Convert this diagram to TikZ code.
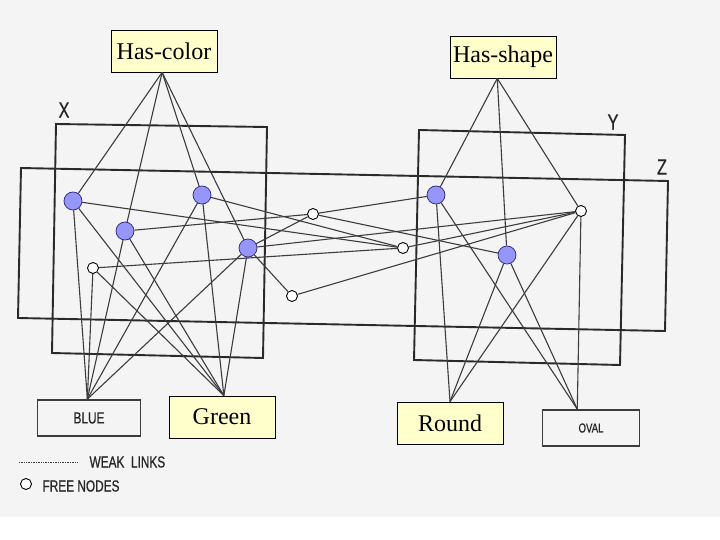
\documentclass[tikz,border=0pt]{standalone}
\usepackage{fontspec}
\setmainfont{Liberation Serif}
\newfontfamily\scanfont[FakeStretch=0.74, FakeBold=0.6]{Liberation Sans}
\usetikzlibrary{positioning}

\definecolor{boxyellow}{RGB}{255,255,204}
\definecolor{nodeblue}{RGB}{150,150,250}
\definecolor{nodeedge}{RGB}{40,40,120}
\definecolor{scangray}{RGB}{244,244,244}
\definecolor{inkgray}{RGB}{60,60,60}

\tikzset{
  featbox/.style={draw=black, fill=boxyellow, line width=0.8pt, minimum width=106pt,
    minimum height=42pt, inner sep=0pt, font=\fontsize{24}{28}\selectfont},
  scanbox/.style={draw=inkgray, line width=1.8pt, minimum height=36pt, inner sep=0pt,
    font=\scanfont\fontsize{16}{18}\selectfont, text=black!85},
  unit/.style={circle, draw=nodeedge, fill=nodeblue, line width=0.7pt, minimum size=18pt, inner sep=0pt},
  freenode/.style={circle, draw=black, fill=white, line width=0.9pt, minimum size=11pt, inner sep=0pt},
  link/.style={draw=inkgray, line width=1.1pt},
  frame/.style={draw=inkgray!70!black, line width=1.9pt},
  setlabel/.style={font=\scanfont\fontsize{22}{24}\selectfont, text=black!85},
  legendtext/.style={anchor=west, font=\scanfont\fontsize{16}{18}\selectfont, text=black!85}
}

\begin{document}
\begin{tikzpicture}[x=1pt, y=-1pt]
    \useasboundingbox (0,0) rectangle (720,540);
    \fill[scangray] (0,0) rectangle (720,517);

    % --- sets X, Y, Z ---
    \draw[frame] (56,124) -- (267,127) -- (263,358) -- (52,353) -- cycle;
    \draw[frame] (21,168) -- (668,181) -- (665,331) -- (18,318) -- cycle;
    \draw[frame] (419,130) -- (625,135) -- (620,365) -- (414,360) -- cycle;
    \node[setlabel] (lx) at (64,110) {X};
    \node[setlabel] (ly) at (613,122) {Y};
    \node[setlabel] (lz) at (662,167) {Z};

    % --- feature and value boxes ---
    \node[featbox] (hc) at (164,51) {Has-color};
    \node[featbox] (hs) at (503,57) {Has-shape};
    \node[featbox] (gr) at (222,417) {Green};
    \node[featbox] (rd) at (450,423) {Round};
    \node[scanbox, minimum width=103pt] (bl) at (89,418) {BLUE};
    \node[scanbox, minimum width=97pt, font=\scanfont\fontsize{13}{15}\selectfont] (ov) at (591,428) {OVAL};

    % --- units ---
    \node[unit] (b1) at (73,201) {};
    \node[unit] (b2) at (125,231) {};
    \node[unit] (b3) at (202,195) {};
    \node[unit] (b4) at (248,248) {};
    \node[unit] (b5) at (436,195) {};
    \node[unit] (b6) at (507,255) {};
    \node[freenode] (f1) at (93,268) {};
    \node[freenode] (f2) at (313,214) {};
    \node[freenode] (f3) at (403,248) {};
    \node[freenode] (f4) at (292,296) {};
    \node[freenode] (f5) at (581,211) {};

    % --- links to the boxes ---
    \foreach \n in {b1,b2,b3,b4}{
      \draw[link] (hc.265) -- (\n);
    }
    \foreach \n in {b5,b6,f5}{
      \draw[link] (hs.255) -- (\n);
      \draw[link] (rd.north) -- (\n);
      \draw[link] (ov.126) -- (\n);
    }
    \foreach \n in {b1,b2,b3,b4,f1}{
      \draw[link] (bl.95) -- (\n);
      \draw[link] (gr.85) -- (\n);
    }

    % --- weak links ---
    \foreach \a/\b in {b1/f3, b2/f2, b3/f3, b4/f2, b4/f4, b4/f5, f1/f3, f2/b5, f2/b6, f3/f5, f4/f5}{
      \draw[link] (\a) -- (\b);
    }

    % --- legend ---
    \coordinate (wl) at (19,462);
    \node[legendtext] (wk) at (86,462) {WEAK\ \ LINKS};
    \draw[inkgray, line width=0.7pt, densely dotted] (wl) -- ([xshift=-9pt]wk.west);
    \node[freenode] (fl) at (26,484) {};
    \node[legendtext] (fn) at (39,486) {FREE NODES};
\end{tikzpicture}
\end{document}
